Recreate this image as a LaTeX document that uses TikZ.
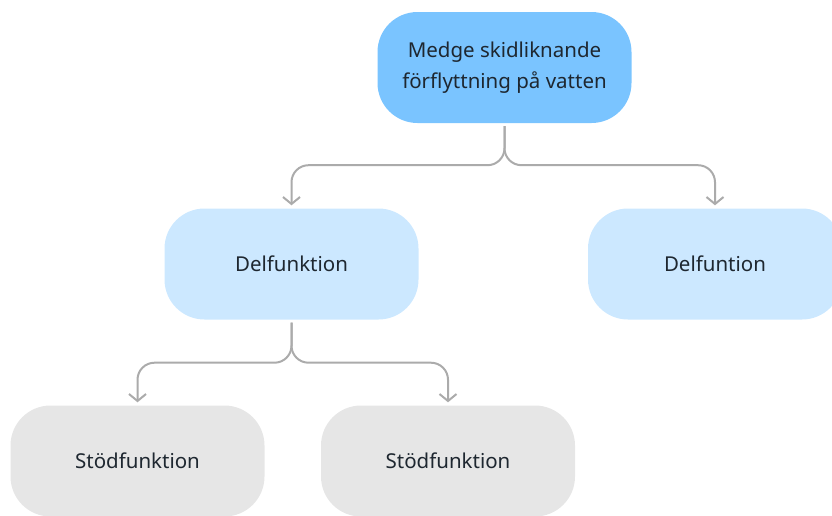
\documentclass[tikz,border=0pt]{standalone}
\usepackage{fontspec}
\setmainfont{Noto Sans}
\usetikzlibrary{arrows.meta}
\definecolor{rootfill}{HTML}{7AC4FF}
\definecolor{subfill}{HTML}{CCE8FF}
\definecolor{supportfill}{HTML}{E6E6E6}
\definecolor{linkgray}{HTML}{ABABAB}
\definecolor{inktext}{HTML}{1E2730}
\begin{document}
\begin{tikzpicture}[x=1pt,y=-1pt,
  box/.style={rounded corners=40pt, minimum width=254pt, minimum height=111pt,
    inner sep=0pt, align=center, text=inktext,
    font=\fontsize{20.5}{31}\selectfont},
  rootbox/.style={box, fill=rootfill},
  subbox/.style={box, fill=subfill},
  supportbox/.style={box, fill=supportfill},
  link/.style={draw=linkgray, line width=2pt, rounded corners=17pt,
    -{Straight Barb[length=7pt,width=17pt,line width=2pt]}, shorten >=3pt}]
  \useasboundingbox (0,0) rectangle (832,515);
  % Nodes
  \node[rootbox] (root) at (504.5,67.5) {Medge skidliknande\\förflyttning på vatten};
  \node[subbox] (sub1) at (291.5,264) {Delfunktion};
  \node[subbox] (sub2) at (715,264) {Delfuntion};
  \node[supportbox] (sup1) at (137.5,461) {Stödfunktion};
  \node[supportbox] (sup2) at (448,461) {Stödfunktion};
  % Connectors (yshift is in page units, so negative moves down)
  \draw[link] ([yshift=-3pt]root.south) -- ++(0,39) -| (sub1.north);
  \draw[link] ([yshift=-3pt]root.south) -- ++(0,39) -| (sub2.north);
  \draw[link] ([yshift=-3pt]sub1.south) -- ++(0,40) -| (sup1.north);
  \draw[link] ([yshift=-3pt]sub1.south) -- ++(0,40) -| (sup2.north);
\end{tikzpicture}
\end{document}
